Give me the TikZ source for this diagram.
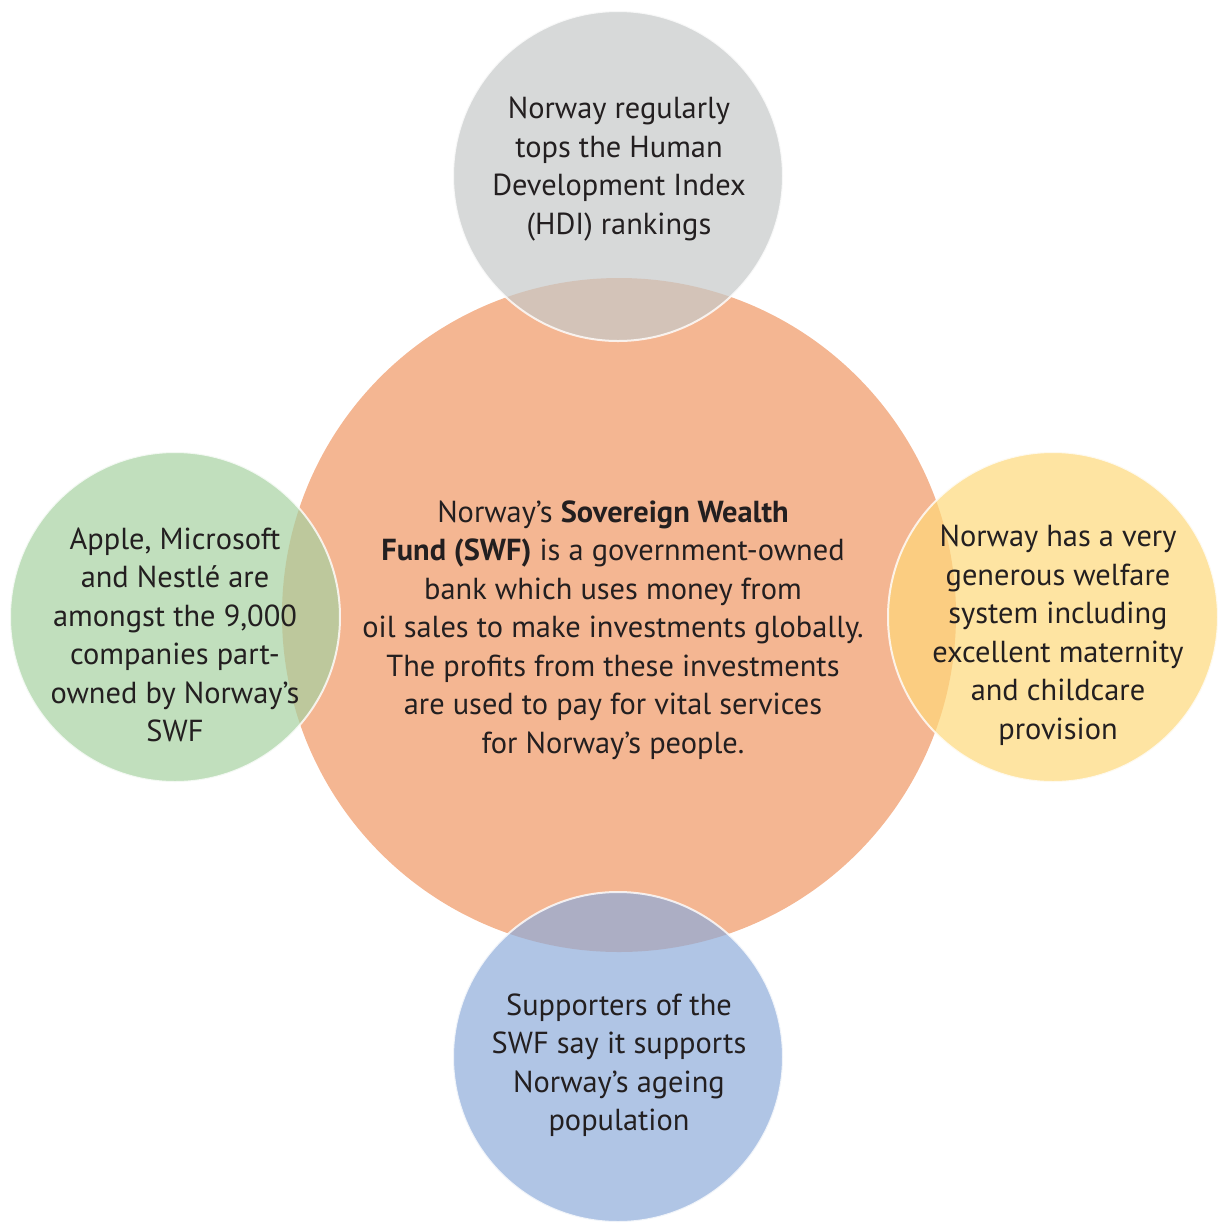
\documentclass[tikz,border=0pt]{standalone}
\usepackage{fontspec}
\setmainfont{PT Sans}
\usepackage{tikz}

\definecolor{fundorange}{RGB}{244,182,146}
\definecolor{hdigrey}{RGB}{198,201,201}
\definecolor{firmgreen}{RGB}{166,209,161}
\definecolor{welfareyellow}{RGB}{254,216,122}
\definecolor{ageblue}{RGB}{142,172,218}
\definecolor{inktext}{RGB}{35,31,32}

\begin{document}
\begin{tikzpicture}[x=0.5pt, y=-0.5pt,
	bubble/.style={shape=circle, minimum size=165pt, inner sep=0pt,
		fill opacity=0.7, draw=white, draw opacity=0.8, line width=1pt},
	blurb/.style={align=center, text=inktext,
		font=\fontsize{15.2}{19.25}\selectfont}]
	
	\useasboundingbox (0, 0) rectangle (1218, 1223);
	
	\node[shape=circle, minimum size=337pt, inner sep=0pt, fill=fundorange] (swf) at (619, 615) {};
	
	\node[bubble, fill=hdigrey]       (hdi)     at (618, 176)  {};
	\node[bubble, fill=firmgreen]     (firms)   at (175, 617)  {};
	\node[bubble, fill=welfareyellow] (welfare) at (1053, 617) {};
	\node[bubble, fill=ageblue]       (ageing)  at (618, 1057) {};
	
	\node[blurb] (swftext) at (613, 630)
		{Norway’s \textbf{Sovereign Wealth}\\
		 \textbf{Fund (SWF)} is a government-owned\\
		 bank which uses money from\\
		 oil sales to make investments globally.\\
		 The profits from these investments\\
		 are used to pay for vital services\\
		 for Norway’s people.};
	\node[blurb] (hditext) at (619, 169)
		{Norway regularly\\tops the Human\\Development Index\\(HDI) rankings};
	\node[blurb] (firmstext) at (175, 635)
		{Apple, Microsoft\\and Nestlé are\\amongst the 9,000\\companies part-\\owned by Norway’s\\SWF};
	\node[blurb] (welfaretext) at (1058, 635)
		{Norway has a very\\generous welfare\\system including\\excellent maternity\\and childcare\\provision};
	\node[blurb] (ageingtext) at (619, 1065)
		{Supporters of the\\SWF say it supports\\Norway’s ageing\\population};
	
\end{tikzpicture}
\end{document}
